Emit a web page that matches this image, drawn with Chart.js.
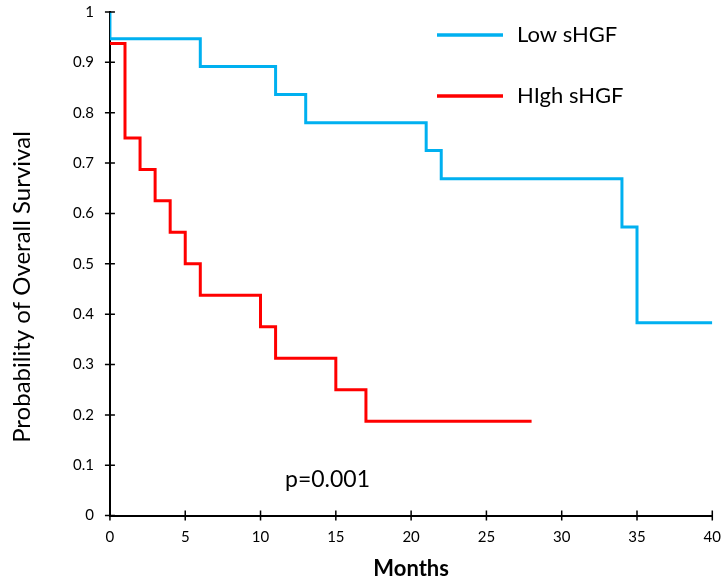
<!DOCTYPE html>
<html>
<head>
<meta charset="utf-8">
<script src="https://cdn.jsdelivr.net/npm/chart.js@4"></script>
<style>
  html, body { margin: 0; padding: 0; background: #fff; }
  #wrap { width: 723px; height: 582px; }
</style>
</head>
<body>
<div id="wrap"><canvas id="chart" width="723" height="582"></canvas></div>
<script>
// Kaplan-Meier steps
const lowMonths = [0, 0, 6, 11, 13, 21, 22, 34, 35, 40];
const lowSurvival = [1, 0.947, 0.892, 0.836, 0.78, 0.725, 0.669, 0.573, 0.383, 0.383];
const highMonths = [0, 1, 2, 3, 4, 5, 6, 10, 11, 15, 17, 28];
const highSurvival = [0.9375, 0.75, 0.6875, 0.625, 0.5625, 0.5, 0.4375, 0.375, 0.3125, 0.25, 0.1875, 0.1875];
const seriesNames = ['Low sHGF', 'HIgh sHGF'];
const yTitle = 'Probability of Overall Survival';
const pValueText = 'p=0.001';

const FONT = 'Lato, "Open Sans", sans-serif';
const toPoints = (xs, ys) => xs.map((x, i) => ({ x: x, y: ys[i] }));

// draws the tick marks crossing the axes, the y title, the in-plot legend and the p value
const extras = {
  id: 'extras',
  afterDraw(chart) {
    const ctx = chart.ctx;
    const xs = chart.scales.x, ys = chart.scales.y;
    const area = chart.chartArea;
    ctx.save();
    ctx.strokeStyle = '#000';
    ctx.lineWidth = 1.5;
    ctx.beginPath();
    xs.ticks.forEach(t => {
      const px = xs.getPixelForValue(t.value);
      ctx.moveTo(px, area.bottom - 5);
      ctx.lineTo(px, area.bottom + 5);
    });
    ys.ticks.forEach(t => {
      const py = ys.getPixelForValue(t.value);
      ctx.moveTo(area.left - 5, py);
      ctx.lineTo(area.left + 5, py);
    });
    ctx.stroke();

    // y axis title (sits a bit below the axis centre in the original)
    ctx.fillStyle = '#000';
    ctx.save();
    ctx.translate(22, 287);
    ctx.rotate(-Math.PI / 2);
    ctx.font = '24px ' + FONT;
    ctx.textAlign = 'center';
    ctx.textBaseline = 'middle';
    ctx.fillText(yTitle, 0, 0);
    ctx.restore();

    // legend
    const colors = ['#00B0F0', '#FF0000'];
    const rows = [35, 96];
    ctx.font = '22px ' + FONT;
    ctx.textBaseline = 'middle';
    seriesNames.forEach((name, i) => {
      ctx.strokeStyle = colors[i];
      ctx.lineWidth = 3.5;
      ctx.beginPath();
      ctx.moveTo(437, rows[i]);
      ctx.lineTo(503, rows[i]);
      ctx.stroke();
      ctx.fillText(name, 517, rows[i]);
    });

    // p value
    ctx.font = '23px ' + FONT;
    ctx.fillText(pValueText, 285, 480);
    ctx.restore();
  }
};

new Chart(document.getElementById('chart'), {
  type: 'line',
  data: {
    datasets: [
      {
        label: seriesNames[0],
        data: toPoints(lowMonths, lowSurvival),
        borderColor: '#00B0F0',
        borderWidth: 3,
        stepped: 'before',
        pointRadius: 0,
        fill: false
      },
      {
        label: seriesNames[1],
        data: toPoints(highMonths, highSurvival),
        borderColor: '#FF0000',
        borderWidth: 3,
        stepped: 'before',
        pointRadius: 0,
        fill: false
      }
    ]
  },
  options: {
    responsive: false,
    maintainAspectRatio: false,
    animation: false,
    layout: { padding: { top: 12, right: 10, left: 71, bottom: 0 } },
    plugins: {
      legend: { display: false },
      tooltip: { enabled: false }
    },
    scales: {
      x: {
        type: 'linear',
        min: 0,
        max: 40,
        ticks: { stepSize: 5, color: '#000', font: { family: FONT, size: 15 }, padding: 2, maxRotation: 0 },
        grid: { drawOnChartArea: false, tickColor: 'rgba(0,0,0,0)', tickLength: 11 },
        border: { color: '#000', width: 2 },
        title: { display: true, text: 'Months', color: '#000', font: { family: FONT, size: 22, weight: 'bold' }, padding: { top: 7, bottom: 0 } }
      },
      y: {
        min: 0,
        max: 1,
        ticks: {
          stepSize: 0.1,
          color: '#000',
          font: { family: FONT, size: 15 },
          padding: 2,
          callback: v => (v === 0 || v === 1) ? String(v) : v.toFixed(1)
        },
        grid: { drawOnChartArea: false, tickColor: 'rgba(0,0,0,0)', tickLength: 14 },
        border: { color: '#000', width: 2 }
      }
    }
  },
  plugins: [extras]
});
</script>
</body>
</html>
